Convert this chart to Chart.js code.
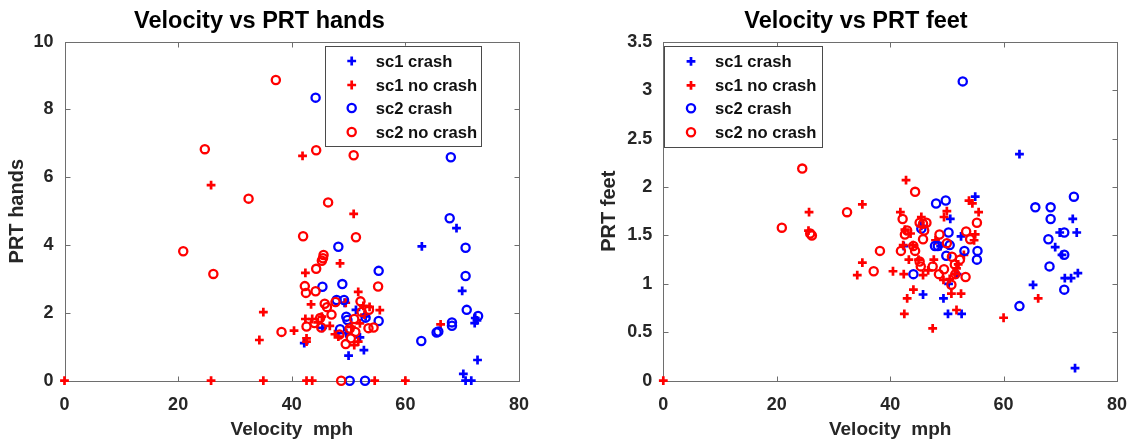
<!DOCTYPE html>
<html><head><meta charset="utf-8">
<script src="https://cdn.jsdelivr.net/npm/chart.js@4.4.1/dist/chart.umd.min.js"></script>
<style>
html,body{margin:0;padding:0;background:#fff;overflow:hidden;width:1134px;height:444px;}
.box{position:absolute;top:0;height:444px;}
#b1{left:0;width:544px;}
#b2{left:595px;width:555px;}
canvas{display:block;}
</style></head><body>
<div class="box" id="b1"><canvas id="c1"></canvas></div>
<div class="box" id="b2"><canvas id="c2"></canvas></div>
<script>
// ---- data ----
const seriesNames = ['sc1 crash', 'sc1 no crash', 'sc2 crash', 'sc2 no crash'];
const velocityTicks = [0, 20, 40, 60, 80];
const handsTicks = [0, 2, 4, 6, 8, 10];
const feetTicks = [0, 0.5, 1, 1.5, 2, 2.5, 3, 3.5];

// [velocity mph, PRT hands]
const handsSc1Crash = [[69.0,4.50],[62.9,3.96],[70.0,2.65],[72.3,1.85],[72.2,1.70],[72.7,0.61],[70.2,0.20],[70.6,0],[71.6,0],
  [50.0,0.74],[52.7,0.90],[42.2,1.11],[45.4,1.56],[49.6,1.40],[52.0,1.28],[51.3,2.09],[49.3,2.30],[53.0,1.90],[72.6,1.78]];
const handsSc1NoCrash = [[47.7,8.0],[41.9,6.63],[25.8,5.77],[50.9,4.92],[48.5,3.46],[42.4,3.18],[35.0,2.02],[34.3,1.20],[40.4,1.48],
  [43.4,2.25],[42.4,1.82],[43.6,1.82],[45.3,1.89],[51.7,2.62],[53.7,2.18],[55.5,2.08],[52.6,2.21],[50.5,1.59],[52.0,1.69],
  [42.6,1.25],[42.6,1.15],[66.2,1.66],[0,0],[25.8,0],[35.0,0],[42.6,0],[43.6,0],[54.6,0],[60.0,0],
  [47.6,1.37],[48.2,1.30],[51.7,1.15],[51.0,1.05],[49.5,2.30],[44.6,1.72],[46.7,1.62],[52.8,1.95]];
const handsSc2Crash = [[44.2,8.35],[68.0,6.59],[67.8,4.79],[70.6,3.92],[70.6,3.09],[70.8,2.09],[68.2,1.72],[68.2,1.62],[65.8,1.45],
  [65.5,1.42],[62.8,1.17],[72.8,1.91],[48.2,3.95],[48.9,2.85],[45.4,2.77],[55.3,3.24],[47.9,2.38],[49.6,1.89],[49.8,1.79],
  [53.0,1.86],[55.3,1.76],[50.2,0],[52.9,0],[48.5,1.52],[49.2,2.38]];
const handsSc2NoCrash = [[37.2,8.87],[24.7,6.83],[44.3,6.80],[50.9,6.65],[32.4,5.37],[46.4,5.26],[42.0,4.26],[51.3,4.23],[20.9,3.82],
  [26.2,3.15],[45.6,3.71],[45.5,3.61],[45.3,3.54],[44.3,3.30],[55.2,2.78],[42.3,2.79],[42.5,2.59],[44.2,2.64],[45.8,2.27],
  [46.2,2.17],[47.7,2.32],[52.1,2.34],[52.3,2.03],[53.6,2.09],[38.2,1.44],[42.6,1.60],[45.2,1.57],[48.4,1.36],[50.2,1.54],
  [51.2,1.44],[53.5,1.55],[54.4,1.57],[49.5,1.08],[48.7,0],[45.0,1.85],[50.4,1.25],[51.0,1.82],[47.0,1.95],[44.0,1.70]];

// [velocity mph, PRT feet]
const feetSc1Crash = [[62.8,2.34],[55.0,1.90],[50.6,1.67],[52.5,1.49],[42.4,1.39],[45.8,0.89],[49.4,0.85],[50.2,0.69],[52.6,0.69],
  [65.2,0.99],[69.1,1.38],[69.9,1.53],[72.2,1.67],[72.9,1.53],[70.8,1.06],[71.9,1.06],[73.1,1.11],[72.6,0.13],[48.9,1.39],
  [45.5,1.60],[50.3,1.00],[51.8,1.10],[70.3,1.30]];
const feetSc1NoCrash = [[0,0],[25.7,1.74],[25.6,1.55],[35.1,1.82],[35.1,1.22],[34.2,1.09],[40.5,1.13],[42.8,2.07],[41.8,1.74],
  [42.6,1.56],[43.6,1.52],[42.4,1.10],[43.3,1.25],[44.1,0.94],[43.0,0.85],[42.5,0.69],[45.5,1.69],[45.8,1.09],[47.7,1.25],
  [47.5,0.54],[49.5,1.69],[50.0,1.75],[49.4,1.04],[50.8,0.90],[52.5,0.90],[51.7,0.73],[53.9,1.86],[54.5,1.83],[55.6,1.74],
  [55.0,1.51],[60.0,0.65],[66.1,0.85],[51.4,1.10],[51.7,1.16],[46.7,1.14],[44.0,1.40],[42.3,1.40],[45.0,1.25],[48.0,1.45],
  [52.0,1.20],[50.5,1.05],[54.8,1.45],[53.0,1.30]];
const feetSc2Crash = [[52.8,3.09],[48.1,1.83],[49.8,1.86],[50.3,1.53],[47.9,1.39],[49.9,1.29],[53.1,1.34],[55.4,1.34],[55.3,1.25],
  [44.1,1.10],[65.6,1.79],[68.3,1.79],[68.3,1.67],[67.9,1.46],[68.1,1.18],[70.7,1.53],[70.7,1.30],[70.7,0.94],[72.4,1.90],
  [62.8,0.77],[48.4,1.39],[50.5,1.40],[45.5,1.57]];
const feetSc2NoCrash = [[24.5,2.19],[20.9,1.58],[25.9,1.52],[26.2,1.50],[32.4,1.74],[37.1,1.13],[38.2,1.34],[44.4,1.95],[42.2,1.67],
  [42.6,1.51],[41.9,1.34],[44.1,1.39],[44.4,1.34],[45.2,1.63],[45.8,1.62],[46.4,1.63],[45.8,1.46],[45.2,1.23],[45.4,1.18],
  [47.5,1.18],[48.7,1.51],[50.0,1.42],[48.6,1.10],[49.5,1.15],[50.9,1.28],[51.4,1.20],[52.3,1.25],[53.3,1.07],[53.4,1.54],
  [54.1,1.46],[55.3,1.63],[50.8,0.99],[43.0,1.55],[46.0,1.55],[51.5,1.10]];

// ---- styling ----
const FONT = "'Liberation Sans', Arial, Helvetica, sans-serif";
Chart.defaults.font.family = FONT;
const TEXT = '#262626';
const FRAME = '#6e6e6e';
const BLUE = '#0000ff', RED = '#ff0000';
const styles = [
  {color: BLUE, style: 'cross'},
  {color: RED, style: 'cross'},
  {color: BLUE, style: 'circle'},
  {color: RED, style: 'circle'}
];

function makeDataset(i, pts) {
  const s = styles[i];
  const cross = s.style === 'cross';
  return {
    label: seriesNames[i],
    data: pts.map(p => ({x: p[0], y: p[1]})),
    showLine: false,
    clip: false,
    order: 4 - i,
    pointStyle: s.style,
    pointRadius: cross ? 4.4 : 4.1,
    pointHoverRadius: cross ? 4.4 : 4.1,
    pointBorderWidth: cross ? 2.7 : 2.3,
    pointBorderColor: s.color,
    pointBackgroundColor: 'rgba(0,0,0,0)',
    borderColor: s.color,
    backgroundColor: 'rgba(0,0,0,0)'
  };
}

// frame with inward ticks on all four sides (MATLAB box style) + inset legend
const framePlugin = {
  id: 'matFrame',
  beforeDatasetsDraw(chart) {
    const {ctx, chartArea: a, scales} = chart;
    ctx.save();
    ctx.strokeStyle = FRAME;
    ctx.lineWidth = 1;
    const L = Math.round(a.left) + 0.5, R = Math.round(a.right) + 0.5;
    const T = Math.round(a.top) + 0.5, B = Math.round(a.bottom) + 0.5;
    ctx.strokeRect(L, T, R - L, B - T);
    const tl = 5;
    ctx.beginPath();
    scales.x.ticks.forEach(t => {
      const px = Math.round(scales.x.getPixelForValue(t.value)) + 0.5;
      ctx.moveTo(px, B); ctx.lineTo(px, B - tl);
      ctx.moveTo(px, T); ctx.lineTo(px, T + tl);
    });
    scales.y.ticks.forEach(t => {
      const py = Math.round(scales.y.getPixelForValue(t.value)) + 0.5;
      ctx.moveTo(L, py); ctx.lineTo(L + tl, py);
      ctx.moveTo(R, py); ctx.lineTo(R - tl, py);
    });
    ctx.stroke();
    ctx.restore();
  },
  afterDatasetsDraw(chart, args, o) {
    const {ctx, chartArea: a} = chart;
    const lx = a.left + o.x, ly = a.top + o.y;
    ctx.save();
    ctx.fillStyle = '#fff';
    ctx.fillRect(lx, ly, o.w, o.h);
    ctx.strokeStyle = '#4a4a4a';
    ctx.lineWidth = 1;
    ctx.strokeRect(Math.round(lx) + 0.5, Math.round(ly) + 0.5, Math.round(o.w), Math.round(o.h));
    chart.data.datasets.forEach((ds, i) => {
      const y = ly + o.rows[i];
      const x = lx + o.mx;
      const r = ds.pointRadius;
      ctx.strokeStyle = ds.pointBorderColor;
      ctx.lineWidth = ds.pointBorderWidth;
      ctx.beginPath();
      if (ds.pointStyle === 'cross') {
        ctx.moveTo(x - r, y); ctx.lineTo(x + r, y);
        ctx.moveTo(x, y - r); ctx.lineTo(x, y + r);
      } else {
        ctx.arc(x, y, r, 0, Math.PI * 2);
      }
      ctx.stroke();
      ctx.fillStyle = '#111';
      ctx.font = "bold 16.6px " + FONT;
      ctx.textAlign = 'left';
      ctx.textBaseline = 'middle';
      ctx.fillText(ds.label, lx + o.tx, y + 1);
    });
    ctx.restore();
  }
};

function makeChart(id, cfg) {
  const tickFont = {size: 18, weight: 'bold', family: FONT};
  const xTitleFont = {size: 19, weight: 'bold', family: FONT};
  const yTitleFont = {size: 20, weight: 'bold', family: FONT};
  return new Chart(document.getElementById(id), {
    type: 'scatter',
    data: {datasets: cfg.series.map((pts, i) => makeDataset(i, pts))},
    plugins: [framePlugin],
    options: {
      responsive: true,
      maintainAspectRatio: false,
      animation: false,
      events: [],
      layout: {padding: {left: 0, right: cfg.padRight, top: 0, bottom: 0}},
      plugins: {
        legend: {display: false},
        tooltip: {enabled: false},
        title: {display: true, text: cfg.title, color: '#000',
          font: {size: 23.5, weight: 'bold', family: FONT}, padding: {top: 7, bottom: 6.5}},
        matFrame: cfg.legend
      },
      scales: {
        x: {
          type: 'linear', min: 0, max: 80,
          afterBuildTicks: s => { s.ticks = velocityTicks.map(v => ({value: v})); },
          afterFit: s => { s.height = 63.3; },
          ticks: {color: TEXT, font: tickFont, padding: 14, maxRotation: 0, autoSkip: false, callback: v => String(v)},
          grid: {display: false, drawTicks: false},
          border: {display: false},
          title: {display: true, text: 'Velocity  mph', color: TEXT, font: xTitleFont, padding: {top: 0, bottom: 3}}
        },
        y: {
          type: 'linear', min: 0, max: cfg.yMax,
          afterBuildTicks: s => { s.ticks = cfg.yTicks.map(v => ({value: v})); },
          afterFit: s => { s.width = cfg.yWidth; },
          ticks: {color: TEXT, font: tickFont, padding: 11, autoSkip: false, callback: v => String(v)},
          grid: {display: false, drawTicks: false},
          border: {display: false},
          title: {display: true, text: cfg.yLabel, color: TEXT, font: yTitleFont, padding: {top: cfg.yTitlePad, bottom: 0}}
        }
      }
    }
  });
}

makeChart('c1', {
  title: 'Velocity vs PRT hands',
  yLabel: 'PRT hands',
  yMax: 10,
  yTicks: handsTicks,
  yWidth: 64.5,
  yTitlePad: 5.5,
  padRight: 25,
  series: [handsSc1Crash, handsSc1NoCrash, handsSc2Crash, handsSc2NoCrash],
  legend: {x: 260.5, y: 4, w: 155.7, h: 100, mx: 26.7, tx: 50.7, rows: [15.3, 39.3, 62.3, 86.3]}
});

makeChart('c2', {
  title: 'Velocity vs PRT feet',
  yLabel: 'PRT feet',
  yMax: 3.5,
  yTicks: feetTicks,
  yWidth: 68.3,
  yTitlePad: 2,
  padRight: 33,
  series: [feetSc1Crash, feetSc1NoCrash, feetSc2Crash, feetSc2NoCrash],
  legend: {x: 1, y: 4.3, w: 158, h: 100.7, mx: 26.7, tx: 50.7, rows: [15.3, 39.3, 62.3, 86.3]}
});
</script>
</body></html>
